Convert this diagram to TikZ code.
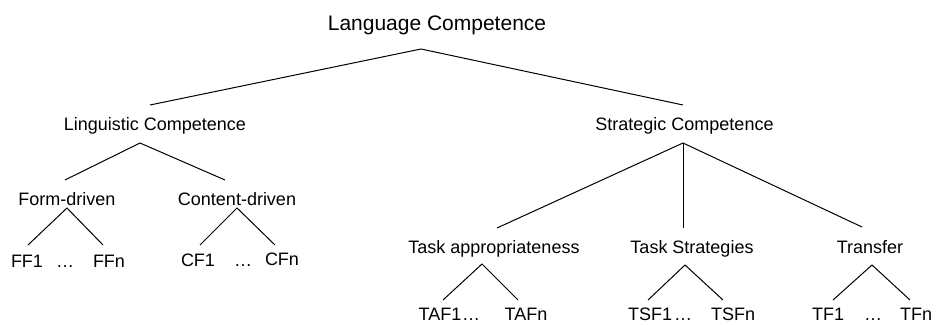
\documentclass[tikz,border=0pt]{standalone}
\usepackage{fontspec}
\setmainfont{Liberation Sans}
\begin{document}
\begin{tikzpicture}[x=1pt,y=-1pt,
  lbl/.style={inner sep=0pt,anchor=base,font=\fontsize{18}{20}\selectfont},
  toplbl/.style={inner sep=0pt,anchor=base,font=\fontsize{21}{24}\selectfont},
  edge/.style={draw=black,line width=1pt}]
\useasboundingbox[fill=white] (0,0) rectangle (937,324);
% labels
\node[toplbl] (lang) at (437,30) {Language Competence};
\node[lbl] (ling) at (155,130) {Linguistic Competence};
\node[lbl] (strat) at (684.5,130) {Strategic Competence};
\node[lbl] (form) at (67,205) {Form-driven};
\node[lbl] (cont) at (237,205) {Content-driven};
\node[lbl] (ff1) at (27,267) {FF1};
\node[lbl] (ffd) at (65,267) {…};
\node[lbl] (ffn) at (109,267) {FFn};
\node[lbl] (cf1) at (198,266) {CF1};
\node[lbl] (cfd) at (243,266) {…};
\node[lbl] (cfn) at (282,265) {CFn};
\node[lbl] (ta) at (494,253) {Task appropriateness};
\node[lbl] (ts) at (692,253.5) {Task Strategies};
\node[lbl] (tr) at (870,253.5) {Transfer};
\node[lbl] (taf1) at (440,320) {TAF1};
\node[lbl] (tafd) at (471,320) {…};
\node[lbl] (tafn) at (526,320) {TAFn};
\node[lbl] (tsf1) at (650,320) {TSF1};
\node[lbl] (tsfd) at (683,320) {…};
\node[lbl] (tsfn) at (733,320) {TSFn};
\node[lbl] (tf1) at (828,320) {TF1};
\node[lbl] (tfd) at (873,320) {…};
\node[lbl] (tfn) at (916,320) {TFn};
% branch points
\coordinate (langA) at (421,49);
\coordinate (lingT) at (150,105);
\coordinate (stratT) at (683,105);
\coordinate (lingA) at (140,143);
\coordinate (formT) at (65,180);
\coordinate (contT) at (225,180);
\coordinate (formA) at (67,208);
\coordinate (ff1T) at (28,245);
\coordinate (ffnT) at (103,245);
\coordinate (contA) at (237,208);
\coordinate (cf1T) at (200,245);
\coordinate (cfnT) at (275,245);
\coordinate (stratA) at (683,143);
\coordinate (taT) at (497,228);
\coordinate (tsT) at (683,228);
\coordinate (trT) at (862,227);
\coordinate (taA) at (482,264);
\coordinate (taf1T) at (443,300);
\coordinate (tafnT) at (518,300);
\coordinate (tsA) at (685,265);
\coordinate (tsf1T) at (648,300);
\coordinate (tsfnT) at (723,300);
\coordinate (trA) at (872,265);
\coordinate (tf1T) at (833,300);
\coordinate (tfnT) at (910,300);
% connectors
\draw[edge] (lingT) -- (langA) -- (stratT);
\draw[edge] (formT) -- (lingA) -- (contT);
\draw[edge] (ff1T) -- (formA) -- (ffnT);
\draw[edge] (cf1T) -- (contA) -- (cfnT);
\draw[edge] (taT) -- (stratA) -- (trT);
\draw[edge] (stratA) -- (tsT);
\draw[edge] (taf1T) -- (taA) -- (tafnT);
\draw[edge] (tsf1T) -- (tsA) -- (tsfnT);
\draw[edge] (tf1T) -- (trA) -- (tfnT);
\end{tikzpicture}
\end{document}
